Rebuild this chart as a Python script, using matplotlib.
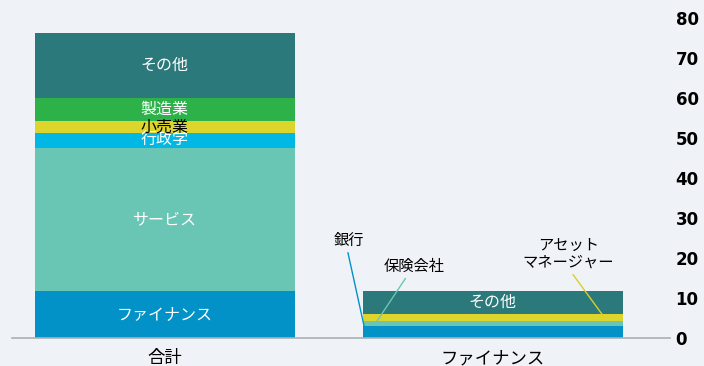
import matplotlib
matplotlib.use('Agg')
from matplotlib import pyplot as plt

plt.rcParams['font.family'] = ['Noto Sans CJK JP', 'DejaVu Sans']

# 合計 bar, bottom to top
total_labels = ['ファイナンス', 'サービス', '行政学', '小売業', '製造業', 'その他']
total_values = [11.75, 35.75, 3.8, 3.0, 5.6, 16.35]
total_colors = ['#0392c7', '#69c6b4', '#00b8e3', '#ddd52b', '#2db24a', '#2b797b']
total_text = ['white', 'white', 'white', 'black', 'white', 'white']

# ファイナンス breakdown, bottom to top
fin_labels = ['銀行', '保険会社', 'アセット\nマネージャー', 'その他']
fin_values = [3.0, 1.2, 1.8, 5.75]
fin_colors = ['#0392c7', '#69c6b4', '#ddd52b', '#2b797b']

categories = ['合計', 'ファイナンス']
yticks = [0, 10, 20, 30, 40, 50, 60, 70, 80]

bg = '#eff3f8'
fig = plt.figure(figsize=(7.04, 3.66), dpi=100, facecolor=bg)
ax = fig.add_axes([12/704, 28/366, 658/704, 320/366], facecolor=bg)
ax.set_xlim(-0.466, 1.54)
ax.set_ylim(0, 80)

w = 0.793
bottom = 0
for lab, v, c, tc in zip(total_labels, total_values, total_colors, total_text):
    ax.bar(0, v, bottom=bottom, width=w, color=c, linewidth=0)
    ax.text(0, bottom + v/2, lab, ha='center', va='center', color=tc, fontsize=11.5)
    bottom += v

bottom = 0
fin_mid = []
for lab, v, c in zip(fin_labels, fin_values, fin_colors):
    ax.bar(1, v, bottom=bottom, width=w, color=c, linewidth=0)
    fin_mid.append(bottom + v/2)
    bottom += v
ax.text(1, fin_mid[3], fin_labels[3], ha='center', va='center', color='white', fontsize=11.5)

# callouts for the thin segments, leader lines start under each label
ax.annotate(fin_labels[0], xy=(0.61, fin_mid[0] + 0.5), xytext=(0.56, 24.5),
            ha='center', va='center', fontsize=11,
            arrowprops=dict(arrowstyle='-', color=fin_colors[0], lw=1,
                            relpos=(0.45, 0), shrinkA=1, shrinkB=0))
ax.annotate(fin_labels[1], xy=(0.645, fin_mid[1] + 0.4), xytext=(0.76, 18.0),
            ha='center', va='center', fontsize=11,
            arrowprops=dict(arrowstyle='-', color=fin_colors[1], lw=1,
                            relpos=(0.4, 0), shrinkA=1, shrinkB=0))
ax.annotate(fin_labels[2], xy=(1.335, fin_mid[2] + 0.6), xytext=(1.23, 21.0),
            ha='center', va='center', fontsize=11, linespacing=0.95,
            arrowprops=dict(arrowstyle='-', color='#d8cf2a', lw=1,
                            relpos=(0.52, 0), shrinkA=1, shrinkB=0))

ax.set_xticks([0, 1])
ax.set_xticklabels(categories, fontsize=12.5)
ax.tick_params(axis='x', length=0, pad=8)

ax.yaxis.tick_right()
ax.set_yticks(yticks)
ax.tick_params(axis='y', length=0, pad=4)
for t in ax.get_yticklabels():
    t.set_fontfamily('DejaVu Sans')
    t.set_fontsize(12)
    t.set_fontweight('bold')

for s in ['top', 'left', 'right']:
    ax.spines[s].set_visible(False)
ax.spines['bottom'].set_color('#a9b1b4')
ax.spines['bottom'].set_linewidth(1.2)

fig.savefig('out.png', dpi=100, facecolor=bg)
